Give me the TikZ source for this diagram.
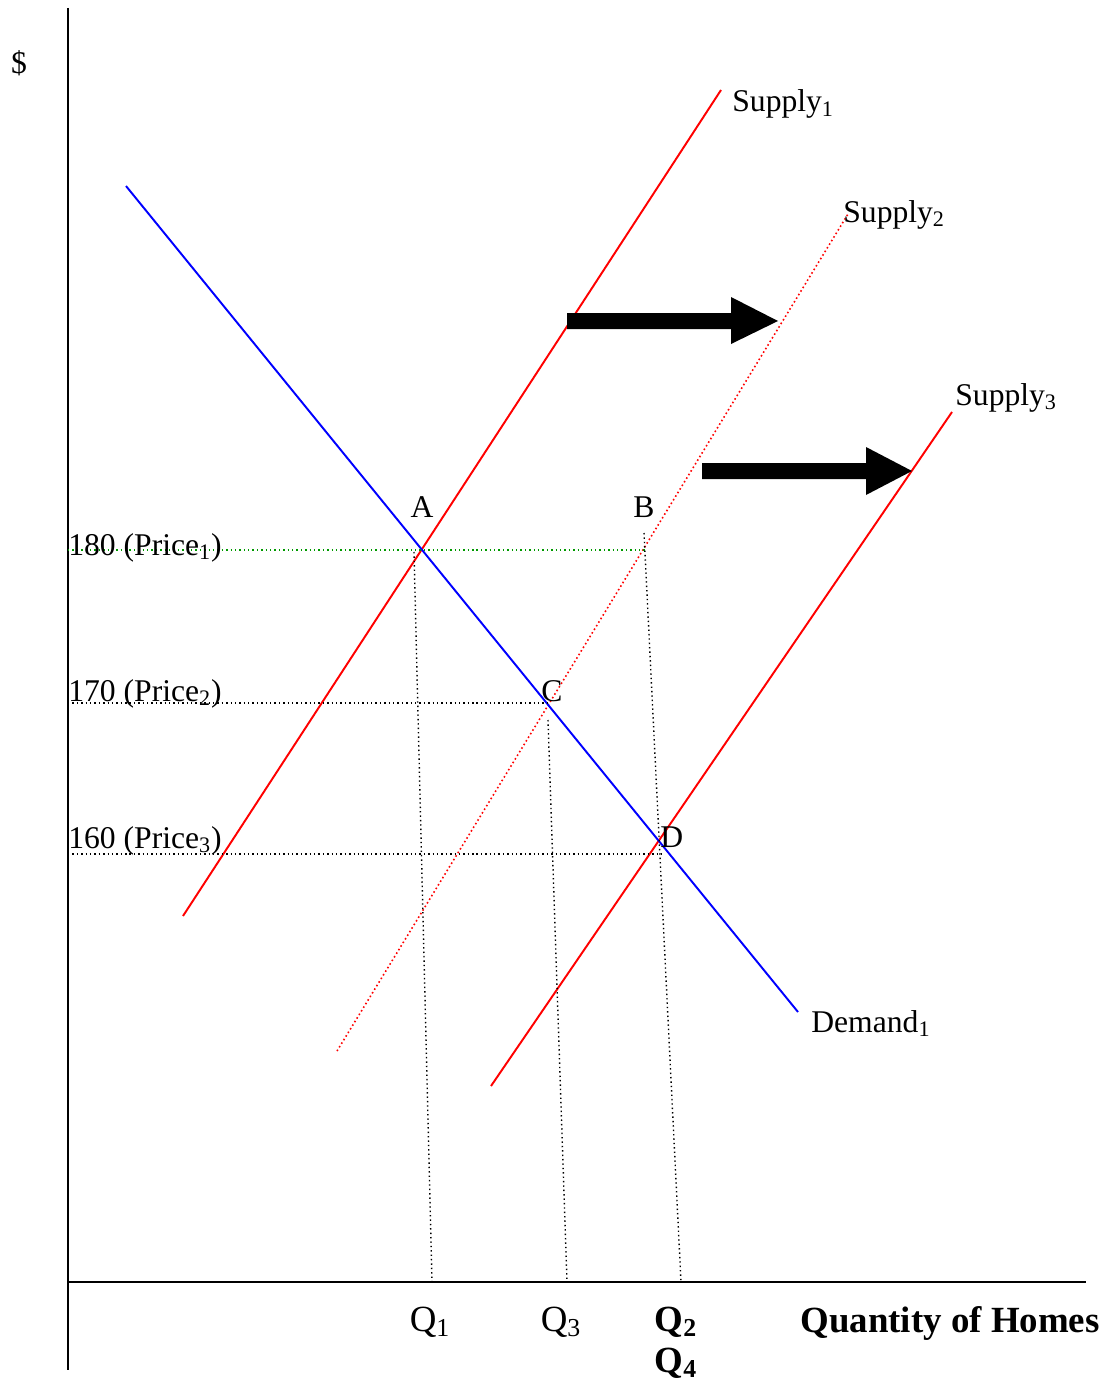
\documentclass[tikz,border=0pt]{standalone}
\usepackage{fontspec}
\setmainfont{Liberation Serif}
\usetikzlibrary{positioning}

\begin{document}
\begin{tikzpicture}[
    x=0.02cm, y=-0.02cm,
    axis/.style={draw, line width=1.3pt},
    supply/.style={draw, red, line width=1.1pt},
    demand/.style={draw, blue, line width=1.1pt},
    guide/.style={draw, line width=0.8pt, dash pattern=on 0.8pt off 1.7pt},
    lbl/.style={inner sep=0pt, anchor=base west, font=\fontsize{18}{20}\selectfont},
    pt/.style={inner sep=0pt, anchor=base, font=\fontsize{18}{20}\selectfont},
    qlbl/.style={inner sep=0pt, anchor=base, font=\fontsize{21}{24}\selectfont},
    shiftarrow/.style={fill=black}
]
    \useasboundingbox (0,0) rectangle (1104,1382);

    % axes
    \coordinate (ytop) at (68,8);
    \coordinate (ybot) at (68,1370);
    \coordinate (xend) at (1086,1282);
    \coordinate (orig) at (68,1282);
    \draw[axis] (ytop) -- (ybot);
    \draw[axis] (orig) -- (xend);
    \node[pt] (dollar) at (19,74) {\$};
    \node[lbl, font=\fontsize{21}{24}\selectfont\bfseries] (qty) at (800,1332) {Quantity of Homes};

    % curves
    \coordinate (s1a) at (183,916);  \coordinate (s1b) at (721,90);
    \coordinate (s2a) at (337,1051); \coordinate (s2b) at (848,214);
    \coordinate (s3a) at (491,1086); \coordinate (s3b) at (952,412);
    \coordinate (d1a) at (126,186);  \coordinate (d1b) at (798,1012);
    \draw[supply] (s1a) -- (s1b);
    \draw[supply, line width=0.9pt, dash pattern=on 0.9pt off 1.5pt] (s2a) -- (s2b);
    \draw[supply] (s3a) -- (s3b);
    \draw[demand] (d1a) -- (d1b);
    \node[lbl] (sup1) at (732,112) {Supply\textsubscript{1}};
    \node[lbl] (sup2) at (843,222) {Supply\textsubscript{2}};
    \node[lbl] (sup3) at (955,405) {Supply\textsubscript{3}};
    \node[lbl] (dem1) at (811,1032) {Demand\textsubscript{1}};

    % equilibrium points
    \node[pt] (ptA) at (422,517) {A};
    \node[pt] (ptB) at (644,517) {B};
    \node[lbl] (ptC) at (541,701) {C};
    \node[lbl] (ptD) at (660,847) {D};

    % price guides
    \coordinate (pr1) at (68,550);  \coordinate (b1) at (645,550);
    \coordinate (pr2) at (68,703);  \coordinate (c1) at (548,703);
    \coordinate (pr3) at (68,854);  \coordinate (d1) at (662,854);
    \draw[guide, green!60!black] (pr1) -- (b1);
    \draw[guide] (pr2) -- (c1);
    \draw[guide] (pr3) -- (d1);
    \node[lbl] (p180) at (68,555) {180 (Price\textsubscript{1})};
    \node[lbl] (p170) at (68,701) {170 (Price\textsubscript{2})};
    \node[lbl] (p160) at (68,848) {160 (Price\textsubscript{3})};

    % quantity guides
    \coordinate (qa) at (414,552); \coordinate (qa1) at (432,1282);
    \coordinate (qc) at (548,720); \coordinate (qc1) at (567,1282);
    \coordinate (qb) at (644,533); \coordinate (qb1) at (681,1282);
    \draw[guide] (qa) -- (qa1);
    \draw[guide] (qc) -- (qc1);
    \draw[guide] (qb) -- (qb1);
    \node[qlbl] (q1) at (430,1331) {Q\textsubscript{1}};
    \node[qlbl] (q3) at (561,1331) {Q\textsubscript{3}};
    \node[qlbl, font=\fontsize{21}{24}\selectfont\bfseries] (q2) at (676,1331) {Q\textsubscript{2}};
    \node[qlbl, font=\fontsize{21}{24}\selectfont\bfseries] (q4) at (676,1372) {Q\textsubscript{4}};

    % shift arrows
    \fill[shiftarrow] (567,313) -- (731,313) -- (731,297) -- (778,321) -- (731,344) -- (731,329) -- (567,329) -- cycle;
    \fill[shiftarrow] (702,463) -- (866,463) -- (866,447) -- (912,471) -- (866,495) -- (866,479) -- (702,479) -- cycle;
\end{tikzpicture}
\end{document}
